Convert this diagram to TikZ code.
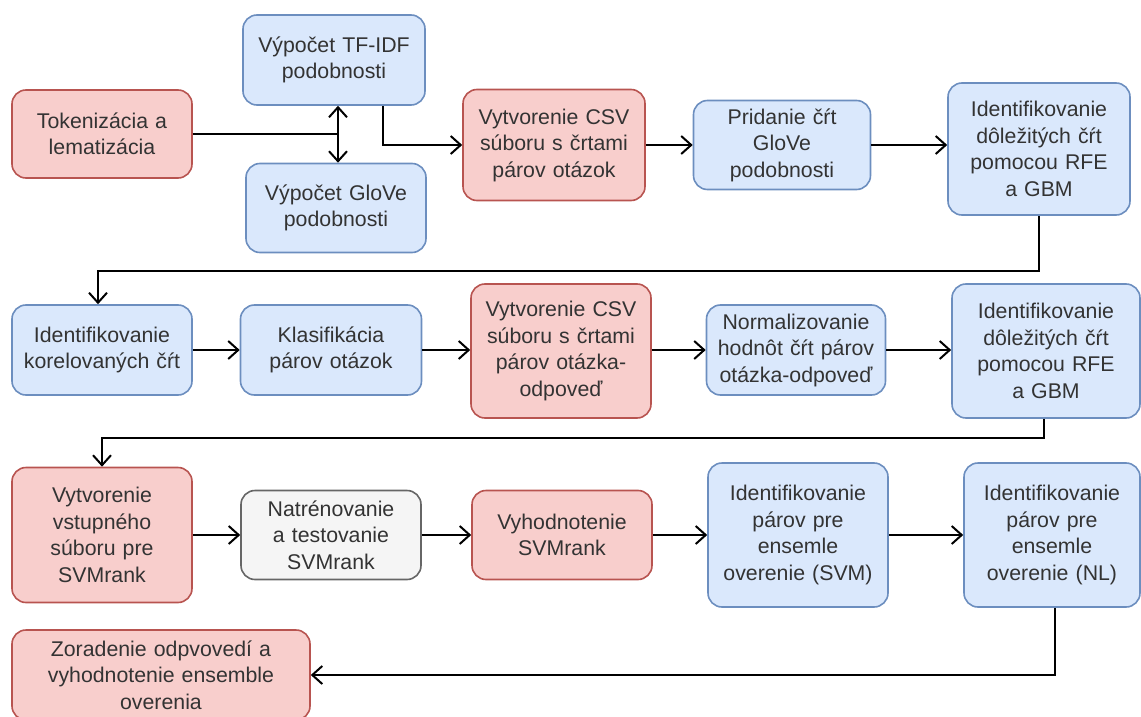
\documentclass[tikz,border=0pt]{standalone}
\usepackage{fontspec}
\setmainfont{Liberation Sans}
\usetikzlibrary{arrows.meta}
\definecolor{redfill}{HTML}{F8CECC}
\definecolor{reddraw}{HTML}{B85450}
\definecolor{bluefill}{HTML}{DAE8FC}
\definecolor{bluedraw}{HTML}{6C8EBF}
\definecolor{grayfill}{HTML}{F5F5F5}
\definecolor{graydraw}{HTML}{666666}
\definecolor{txt}{HTML}{333333}
\begin{document}
\begin{tikzpicture}[x=1pt, y=-1pt,
    box/.style={rounded corners=14pt, line width=1.6pt, align=center, inner sep=0pt,
      text=txt, font=\fontsize{21.3}{26.5}\selectfont},
    redbox/.style={box, fill=redfill, draw=reddraw},
    bluebox/.style={box, fill=bluefill, draw=bluedraw},
    graybox/.style={box, fill=grayfill, draw=graydraw},
    sz/.style 2 args={minimum width=#1pt, minimum height=#2pt, text width=#1pt-4pt},
    line/.style={line width=2pt, black},
    arr/.style={line, -{Straight Barb[length=10pt, width=18pt, line width=2pt]}}]
  \useasboundingbox (0,0) rectangle (1141,717);
  % row 1
  \node[redbox, sz={180}{88}] (tok) at (102,134) {Tokenizácia a\\lematizácia};
  \node[bluebox, sz={182}{90}] (tfidf) at (334,60) {Výpočet TF-IDF\\podobnosti};
  \node[bluebox, sz={180}{89}] (glove) at (336,208) {Výpočet GloVe\\podobnosti};
  \node[redbox, sz={182}{111}] (csvq) at (554,145) {Vytvorenie CSV\\súboru s črtami\\párov otázok};
  \node[bluebox, sz={177}{89}] (pridanie) at (782,145) {Pridanie čŕt\\GloVe\\podobnosti};
  \node[bluebox, sz={182}{132}] (dolezite) at (1039,149) {Identifikovanie\\dôležitých čŕt\\pomocou RFE\\a GBM};
  % row 2
  \node[bluebox, sz={180}{90}] (korel) at (102,350) {Identifikovanie\\korelovaných čŕt};
  \node[bluebox, sz={181}{90}] (klasif) at (331,350) {Klasifikácia\\párov otázok};
  \node[redbox, sz={180}{134}] (csvqa) at (561,351) {Vytvorenie CSV\\súboru s črtami\\párov otázka-\\odpoveď};
  \node[bluebox, sz={179}{90}] (norm) at (796,350) {Normalizovanie\\hodnôt čŕt párov\\otázka-odpoveď};
  \node[bluebox, sz={188}{134}] (dolezite2) at (1046,351) {Identifikovanie\\dôležitých čŕt\\pomocou RFE\\a GBM};
  % row 3
  \node[redbox, sz={180}{135}] (vstup) at (102,535) {Vytvorenie\\vstupného\\súboru pre\\SVMrank};
  \node[graybox, sz={180}{89}] (trening) at (331,535) {Natrénovanie\\a testovanie\\SVMrank};
  \node[redbox, sz={180}{89}] (vyhod) at (562,535) {Vyhodnotenie\\SVMrank};
  \node[bluebox, sz={180}{144}] (parsvm) at (798,535) {Identifikovanie\\párov pre\\ensemle\\overenie (SVM)};
  \node[bluebox, sz={176}{144}] (parnl) at (1052,535) {Identifikovanie\\párov pre\\ensemle\\overenie (NL)};
  % row 4
  \node[redbox, sz={298}{90}] (zorad) at (161,675) {Zoradenie odpvovedí a\\vyhodnotenie ensemble\\overenia};
  % connectors
  \coordinate (split) at (338,134);
  \draw[line] (tok.east) -- (split);
  \draw[arr] (split) -- (tfidf.south -| split);
  \draw[arr] (split) -- (glove.north -| split);
  \draw[arr] ([xshift=49pt]tfidf.south) |- (csvq.west);
  \draw[arr] (csvq) -- (pridanie);
  \draw[arr] (pridanie) -- (pridanie -| dolezite.west);
  \draw[arr] (dolezite.south) -- ++(0,55) -| ([xshift=-4pt]korel.north);
  \draw[arr] (korel) -- (klasif);
  \draw[arr] (klasif) -- (klasif -| csvqa.west);
  \draw[arr] (csvqa.east |- norm) -- (norm);
  \draw[arr] (norm) -- (norm -| dolezite2.west);
  \draw[arr] ([xshift=-2pt]dolezite2.south) -- ++(0,19) -| (vstup.north);
  \draw[arr] (vstup) -- (trening);
  \draw[arr] (trening) -- (vyhod);
  \draw[arr] (vyhod) -- (parsvm);
  \draw[arr] (parsvm) -- (parnl);
  \draw[arr] ([xshift=3pt]parnl.south) |- (zorad.east);
\end{tikzpicture}
\end{document}
